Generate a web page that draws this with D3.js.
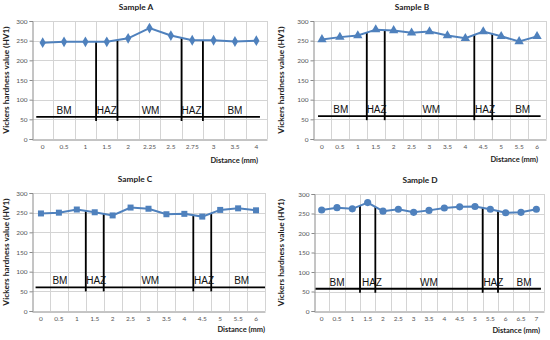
<!DOCTYPE html>
<html>
<head>
<meta charset="utf-8">
<script src="https://cdn.jsdelivr.net/npm/d3@7"></script>
<style>
  body { margin: 0; background: #fff; }
  svg { display: block; }
  .grid line { stroke: #d4d4d4; stroke-width: 1; }
  .tick-label { font-family: Lato, "Open Sans", sans-serif; font-size: 6.5px; fill: #555; }
  .title { font-family: Lato, sans-serif; font-weight: bold; font-size: 8.3px; fill: #222; }
  .axis-title { font-family: Lato, sans-serif; font-weight: bold; font-size: 7.5px; fill: #222; }
  .y-title { font-size: 8.3px; }
  .zone { font-family: "Liberation Sans", Arial, sans-serif; font-size: 10px; fill: #111; }
</style>
</head>
<body>
<div id="chart"></div>
<script>
// data
var distA = ["0", "0.5", "1", "1.5", "2", "2.25", "2.5", "2.75", "3", "3.5", "4"];
var hvA = [245, 247, 247, 247, 256, 282, 263, 251, 251, 248, 250];

var distB = ["0", "0.5", "1", "1.5", "2", "2.5", "3", "3.5", "4", "4.5", "5", "5.5", "6"];
var hvB = [253, 259, 263, 278, 276, 270, 273, 263, 256, 273, 261, 248, 261];

var distC = ["0", "0.5", "1", "1.5", "2", "2.5", "3", "3.5", "4", "4.5", "5", "5.5", "6"];
var hvC = [248, 250, 258, 251, 243, 263, 260, 246, 247, 240, 257, 261, 256];

var distD = ["0", "0.5", "1", "1.5", "2", "2.5", "3", "3.5", "4", "4.5", "5", "5.5", "6", "6.5", "7"];
var hvD = [259, 265, 262, 278, 256, 261, 253, 258, 264, 267, 268, 261, 252, 253, 261];

var yTicks = [0, 50, 100, 150, 200, 250, 300];

// zone annotations (in category-slot units)
var zoneNames = ["BM", "HAZ", "WM", "HAZ", "BM"];
var bordersA = [3, 4, 7, 8], labelPosA = [1.5, 3.5, 5.55, 7.47, 9.5], baseA = 56, baseSpanA = [0.2, 10.67];
var bordersB = [3, 4, 9, 10], labelPosB = [1.55, 3.55, 6.6, 9.6, 11.7], baseB = 58, baseSpanB = [0.28, 12.7];
var bordersC = [3, 4, 9, 10], labelPosC = [1.56, 3.58, 6.6, 9.6, 11.7], baseC = 60, baseSpanC = [0.2, 13.0];
var bordersD = [3, 4, 11, 12], labelPosD = [1.5, 3.78, 7.5, 11.7, 13.7], baseD = 57, baseSpanD = [0.1, 14.8];

var width = 550, height = 340;
var blue = "#4f81bd";

var svg = d3.select("#chart").append("svg")
    .attr("width", width)
    .attr("height", height);

var panels = [
  { title: "Sample A", cats: distA, vals: hvA, marker: "diamond", borders: bordersA, labels: labelPosA, base: baseA, span: baseSpanA,
    ox: 0, oy: 0, left: 32, right: 267, top: 21, bottom: 139, titleX: 136, xTitleRight: 258, xTitleY: 163 },
  { title: "Sample B", cats: distB, vals: hvB, marker: "triangle", borders: bordersB, labels: labelPosB, base: baseB, span: baseSpanB,
    ox: 275, oy: 0, left: 38, right: 271, top: 21, bottom: 139, titleX: 137, xTitleRight: 263, xTitleY: 162 },
  { title: "Sample C", cats: distC, vals: hvC, marker: "square", borders: bordersC, labels: labelPosC, base: baseC, span: baseSpanC,
    ox: 0, oy: 165, left: 32, right: 265, top: 28, bottom: 146, titleX: 135, xTitleRight: 265, xTitleY: 167 },
  { title: "Sample D", cats: distD, vals: hvD, marker: "circle", borders: bordersD, labels: labelPosD, base: baseD, span: baseSpanD,
    ox: 275, oy: 165, left: 39, right: 269, top: 29, bottom: 146, titleX: 145, xTitleRight: 265, xTitleY: 168 }
];

var symbols = {
  diamond: d3.symbol().type(d3.symbolDiamond).size(34),
  triangle: d3.symbol().type(d3.symbolTriangle).size(38),
  square: d3.symbol().type(d3.symbolSquare).size(36),
  circle: d3.symbol().type(d3.symbolCircle).size(40)
};

panels.forEach(function(p) {
  var g = svg.append("g")
      .attr("transform", "translate(" + p.ox + "," + p.oy + ")");

  var x = d3.scaleBand().domain(p.cats).range([p.left, p.right]);
  var y = d3.scaleLinear().domain([0, 300]).range([p.bottom, p.top]);
  var slot = d3.scaleLinear().domain([0, p.cats.length]).range([p.left, p.right]);

  // value of the data line at a fractional slot position
  var lineAt = function(s) {
    var c = s - 0.5, i = Math.max(0, Math.min(p.vals.length - 2, Math.floor(c)));
    return p.vals[i] + (p.vals[i + 1] - p.vals[i]) * (c - i);
  };

  // gridlines
  var grid = g.append("g").attr("class", "grid");
  grid.selectAll("line.h")
      .data(yTicks.slice(1))
    .enter().append("line")
      .attr("x1", p.left).attr("x2", p.right)
      .attr("y1", function(d) { return Math.round(y(d)) + 0.5; })
      .attr("y2", function(d) { return Math.round(y(d)) + 0.5; });
  grid.selectAll("line.v")
      .data(d3.range(1, p.cats.length + 1))
    .enter().append("line")
      .attr("x1", function(d) { return Math.round(slot(d)) + 0.5; })
      .attr("x2", function(d) { return Math.round(slot(d)) + 0.5; })
      .attr("y1", p.top).attr("y2", p.bottom);

  // axes
  var yAxis = g.append("g")
      .attr("transform", "translate(" + (Math.round(p.left) + 0.5) + ",0)")
      .call(d3.axisLeft(y).tickValues(yTicks).tickSize(3).tickPadding(2));
  var xAxis = g.append("g")
      .attr("transform", "translate(0," + (Math.round(p.bottom) + 0.5) + ")")
      .call(d3.axisBottom(x).tickSize(0).tickPadding(5));
  [yAxis, xAxis].forEach(function(a) {
    a.select(".domain").attr("stroke", "#8a8a8a");
    a.selectAll(".tick line").attr("stroke", "#8a8a8a");
    a.selectAll(".tick text").attr("class", "tick-label").attr("fill", null);
    a.attr("font-size", null).attr("font-family", null);
  });

  // zone annotation lines
  g.append("line")
      .attr("x1", slot(p.span[0])).attr("x2", slot(p.span[1]))
      .attr("y1", y(p.base)).attr("y2", y(p.base))
      .attr("stroke", "#000").attr("stroke-width", 1.8);
  g.selectAll("line.border")
      .data(p.borders)
    .enter().append("line")
      .attr("class", "border")
      .attr("x1", function(d) { return slot(d); })
      .attr("x2", function(d) { return slot(d); })
      .attr("y1", y(p.base) + 4)
      .attr("y2", function(d) { return y(lineAt(d)); })
      .attr("stroke", "#000").attr("stroke-width", 1.8);
  g.selectAll("text.zone")
      .data(zoneNames)
    .enter().append("text")
      .attr("class", "zone")
      .attr("x", function(d, i) { return slot(p.labels[i]); })
      .attr("y", y(p.base) - 3)
      .attr("text-anchor", "middle")
      .text(function(d) { return d; });

  // series
  var line = d3.line()
      .x(function(d, i) { return x(p.cats[i]) + x.bandwidth() / 2; })
      .y(function(d) { return y(d); });
  g.append("path")
      .datum(p.vals)
      .attr("d", line)
      .attr("fill", "none")
      .attr("stroke", blue)
      .attr("stroke-width", 2);
  g.selectAll("path.marker")
      .data(p.vals)
    .enter().append("path")
      .attr("class", "marker")
      .attr("transform", function(d, i) {
        return "translate(" + (x(p.cats[i]) + x.bandwidth() / 2) + "," + y(d) + ")";
      })
      .attr("d", symbols[p.marker])
      .attr("fill", blue);

  // titles
  g.append("text")
      .attr("class", "title")
      .attr("x", p.titleX).attr("y", p.top - 11)
      .attr("text-anchor", "middle")
      .text(p.title);
  g.append("text")
      .attr("class", "axis-title y-title")
      .attr("transform", "translate(9," + ((p.top + p.bottom) / 2) + ") rotate(-90)")
      .attr("text-anchor", "middle")
      .text("Vickers hardness value (HV1)");
  g.append("text")
      .attr("class", "axis-title")
      .attr("x", p.xTitleRight).attr("y", p.xTitleY)
      .attr("text-anchor", "end")
      .text("Distance (mm)");
});
</script>
</body>
</html>
